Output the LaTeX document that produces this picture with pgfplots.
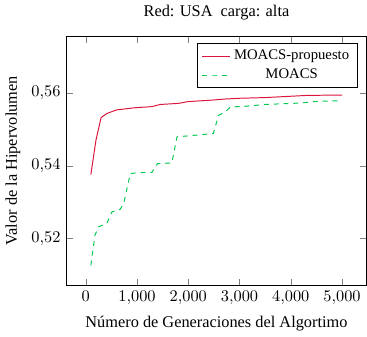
\documentclass[border=0pt]{standalone}
\usepackage{pgfplots}
\pgfplotsset{compat=1.18}
\usepackage{fontspec}
\setmainfont{Liberation Serif}
\definecolor{redc}{RGB}{220,20,60}
\definecolor{greenc}{RGB}{0,200,80}
\begin{document}
\begin{tikzpicture}
\begin{axis}[
  scale only axis,
  width=184pt, height=153pt,
  xmin=-380, xmax=5480,
  ymin=0.507, ymax=0.5758,
  xtick={0,1000,2000,3000,4000,5000},
  ytick={0.52,0.54,0.56},
  yticklabel style={/pgf/number format/.cd,fixed,fixed zerofill,precision=2,use comma},
  title={Red: USA\ \ carga: alta},
  xlabel={Número de Generaciones del Algortimo},
  ylabel={Valor de la Hipervolumen},
  legend pos=north east,
  legend style={font=\small},
]
\addplot[redc, semithick] coordinates {
(100,0.5376) (200,0.5471) (300,0.5533) (410,0.5544) (600,0.5554) (960,0.5560)
(1290,0.5563) (1450,0.5569) (1810,0.5572) (2000,0.5577) (2460,0.5581)
(2720,0.5584) (2980,0.5586) (3500,0.5588) (4320,0.5594) (5000,0.5595)
};
\addlegendentry{MOACS-propuesto}
\addplot[greenc, semithick, dashed] coordinates {
(100,0.5126) (180,0.5209) (250,0.5232) (410,0.5241) (510,0.5273) (670,0.5280)
(740,0.5296) (870,0.5379) (1030,0.5381) (1290,0.5382) (1400,0.5406)
(1680,0.5408) (1780,0.5480) (2040,0.5483) (2490,0.5489) (2590,0.5539)
(2720,0.5548) (2820,0.5562) (3110,0.5564) (3500,0.5569) (4190,0.5573)
(4540,0.5578) (5000,0.5579)
};
\addlegendentry{MOACS}
\end{axis}
\end{tikzpicture}
\end{document}
